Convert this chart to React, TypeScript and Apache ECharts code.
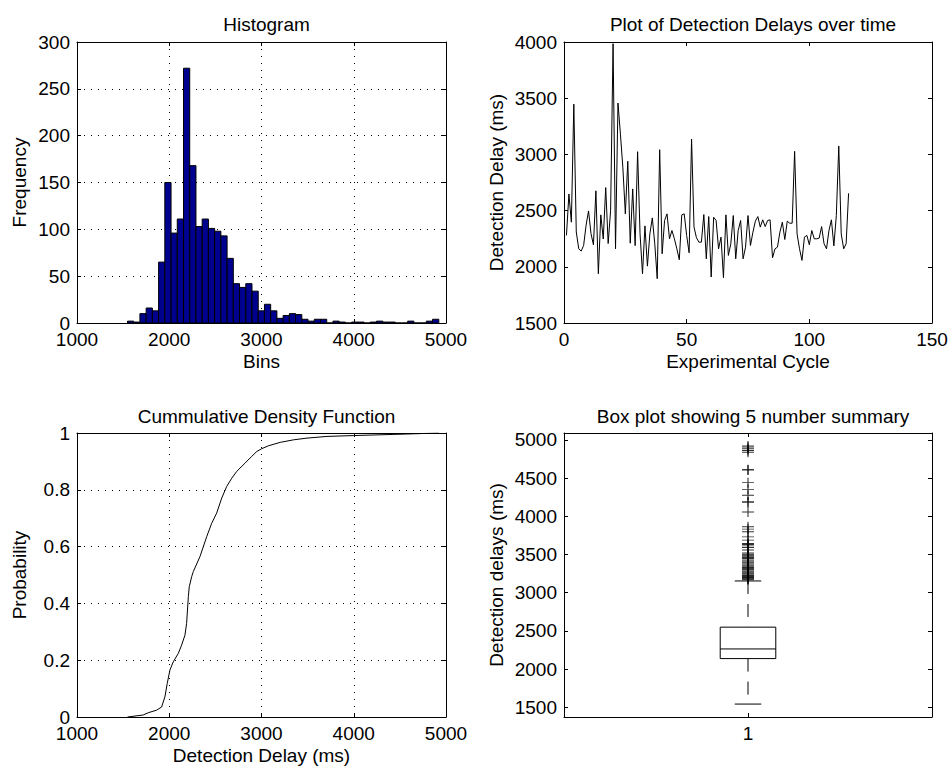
import React, { useEffect, useRef } from 'react';
import * as echarts from 'echarts';

// ---------- data ----------
const histBinStart = 1547;
const histBinWidth = 67.5;
const histCounts = [2, 1, 10, 16, 13, 65, 150, 96, 111, 272, 168, 103, 111, 101, 98, 93, 69, 42, 38, 42, 34, 13, 20, 13, 5, 8, 10, 9, 4, 2, 4, 4, 0, 2, 1, 0, 1, 1, 0, 1, 2, 1, 1, 0, 0, 2, 0, 0, 2, 4];

const cycleDelays = [
  2279, 2648, 2397, 3447, 2310, 2160, 2140, 2190, 2370, 2497,
  2296, 2196, 2676, 1938, 2462, 2247, 2705, 2207, 2503, 3985,
  2160, 3457, 3180, 2880, 2471, 2939, 2210, 2693, 2188, 3024,
  2293, 1938, 2364, 2006, 2293, 2435, 2205, 1894, 3042, 2116,
  2412, 2471, 2249, 2323, 2249, 2160, 2063, 2462, 2471, 2278,
  2125, 3136, 2353, 2258, 2219, 2219, 2465, 2071, 2447, 1909,
  2441, 2412, 2160, 2264, 1903, 2462, 2101, 2205, 2456, 2071,
  2323, 2412, 2071, 2175, 2456, 2190, 2308, 2406, 2447, 2353,
  2418, 2358, 2412, 2418, 2080, 2160, 2175, 2308, 2397, 2243,
  2406, 2388, 2388, 3027, 2293, 2160, 2057, 2264, 2279, 2196,
  2323, 2249, 2249, 2255, 2358, 2205, 2160, 2323, 2418, 2186,
  2456, 3074, 2293, 2160, 2205, 2654,
];

const cdfDelay = [1547, 1717, 1772, 1862, 1917, 1953, 1978, 2007, 2043, 2098, 2134, 2170, 2188, 2207, 2217, 2243, 2261, 2333, 2406, 2460, 2514, 2569, 2623, 2678, 2732, 2822, 2895, 2949, 3004, 3076, 3203, 3348, 3493, 3710, 4000, 4435, 4921];
const cdfProb = [0, 0.007, 0.015, 0.024, 0.035, 0.071, 0.118, 0.165, 0.194, 0.224, 0.253, 0.288, 0.329, 0.424, 0.459, 0.494, 0.512, 0.565, 0.635, 0.682, 0.718, 0.771, 0.812, 0.841, 0.865, 0.894, 0.918, 0.935, 0.945, 0.955, 0.967, 0.976, 0.982, 0.988, 0.991, 0.995, 1];

// [position, lower whisker, Q1, median, Q3, upper whisker]
const boxSummary = [1, 1544, 2139, 2265, 2550, 3154];
const boxOutliers = [
  3170, 3180, 3190, 3200, 3210, 3215, 3225, 3240, 3250, 3260, 3272, 3285, 3300, 3310,
  3320, 3330, 3345, 3360, 3375, 3390, 3400, 3415, 3430, 3447, 3460, 3477, 3490, 3504,
  3520, 3560, 3591, 3613, 3630, 3644, 3688, 3731, 3797, 3832, 3862, 4055, 4182, 4191,
  4274, 4352, 4440, 4606, 4610, 4838, 4860, 4882, 4904, 4920,
];
const boxTicks = [1500, 2000, 2500, 3000, 3500, 4000, 4500, 5000];

// ---------- styling helpers ----------
const FONT = '"Liberation Sans", Arial, Helvetica, sans-serif';
const FS = 19;
const plain = (v: number) => String(v);

type AxCfg = {
  min: number; max: number; interval?: number; name?: string; nameGap?: number;
  grid?: boolean; formatter?: any; customValues?: number[];
};

function axisPair(kind: 'x' | 'y', gridIndex: number, cfg: AxCfg) {
  const base: any = {
    type: 'value', gridIndex, min: cfg.min, max: cfg.max,
    axisLine: { show: true, onZero: false, lineStyle: { color: '#000', width: 1 } },
    axisTick: { show: true, inside: true, length: 4, lineStyle: { color: '#000', width: 1 } },
    splitLine: { show: false },
  };
  if (cfg.interval !== undefined) base.interval = cfg.interval;
  if (cfg.customValues) base.axisTick.customValues = cfg.customValues;
  const label: any = {
    show: true, color: '#000', fontSize: FS, fontFamily: FONT, lineHeight: 15,
    margin: kind === 'x' ? 9 : 7, showMinLabel: true, showMaxLabel: true,
    formatter: cfg.formatter || plain,
  };
  if (cfg.customValues) label.customValues = cfg.customValues;
  const main = {
    ...base,
    position: kind === 'x' ? 'bottom' : 'left',
    axisLabel: label,
    splitLine: { show: !!cfg.grid, lineStyle: { color: '#000', width: 1, type: [1, 6] } },
    name: cfg.name || '',
    nameLocation: 'middle',
    nameGap: cfg.nameGap || 0,
    nameTextStyle: { color: '#000', fontSize: FS, fontFamily: FONT },
  };
  const mirror = {
    ...base,
    axisTick: { ...base.axisTick },
    position: kind === 'x' ? 'top' : 'right',
    axisLabel: { show: false },
  };
  return [main, mirror];
}

const grids = [
  { left: 77, top: 42, width: 369, height: 281 },
  { left: 564, top: 42, width: 368, height: 281 },
  { left: 77, top: 433, width: 369, height: 284 },
  { left: 564, top: 433, width: 368, height: 284 },
];

const xAxes = [
  ...axisPair('x', 0, { min: 1000, max: 5000, interval: 1000, name: 'Bins', nameGap: 29, grid: true }),
  ...axisPair('x', 1, { min: 0, max: 150, interval: 50, name: 'Experimental Cycle', nameGap: 29 }),
  ...axisPair('x', 2, { min: 1000, max: 5000, interval: 1000, name: 'Detection Delay (ms)', nameGap: 29, grid: true }),
  ...axisPair('x', 3, { min: 0.5, max: 1.5, interval: 0.5, formatter: (v: number) => (v === 1 ? '1' : '') }),
];
const yAxes = [
  ...axisPair('y', 0, { min: 0, max: 300, interval: 50, name: 'Frequency', nameGap: 48, grid: true }),
  ...axisPair('y', 1, { min: 1500, max: 4000, interval: 500, name: 'Detection Delay (ms)', nameGap: 58 }),
  ...axisPair('y', 2, { min: 0, max: 1, interval: 0.2, name: 'Probability', nameGap: 48, grid: true }),
  ...axisPair('y', 3, { min: 1375, max: 5089, name: 'Detection delays (ms)', nameGap: 58, customValues: boxTicks }),
];

const titleStyle = { color: '#000', fontSize: FS, fontFamily: FONT, fontWeight: 'normal' as const };
const titles = [
  { text: 'Histogram', left: 261.5, top: 10, textAlign: 'center', textStyle: titleStyle },
  { text: 'Plot of Detection Delays over time', left: 748, top: 10, textAlign: 'center', textStyle: titleStyle },
  { text: 'Cummulative Density Function', left: 261.5, top: 402, textAlign: 'center', textStyle: titleStyle },
  { text: 'Box plot showing 5 number summary', left: 748, top: 402, textAlign: 'center', textStyle: titleStyle },
];

const histData = histCounts.map((c, i) => [histBinStart + i * histBinWidth, histBinStart + (i + 1) * histBinWidth, c]);
const lineData = cycleDelays.map((v, i) => [i + 1, v]);
const cdfData = cdfDelay.map((d, i) => [d, cdfProb[i]]);

const BOX_HALF = 0.0755;
const CAP_HALF = 0.036;

const option: any = {
  animation: false,
  backgroundColor: '#fff',
  title: titles,
  grid: grids,
  xAxis: xAxes,
  yAxis: yAxes,
  series: [
    {
      type: 'custom', xAxisIndex: 0, yAxisIndex: 0,
      encode: { x: [0, 1], y: 2 },
      data: histData,
      renderItem: (params: any, api: any) => {
        const p0 = api.coord([api.value(0), api.value(2)]);
        const p1 = api.coord([api.value(1), 0]);
        return {
          type: 'rect',
          shape: { x: p0[0], y: p0[1], width: p1[0] - p0[0], height: p1[1] - p0[1] },
          style: { fill: '#00008f', stroke: '#000', lineWidth: 1 },
        };
      },
    },
    {
      type: 'line', xAxisIndex: 2, yAxisIndex: 2,
      data: lineData, showSymbol: false, symbol: 'none',
      lineStyle: { color: '#000', width: 1 },
    },
    {
      type: 'line', xAxisIndex: 4, yAxisIndex: 4,
      data: cdfData, showSymbol: false, symbol: 'none', smooth: false,
      lineStyle: { color: '#000', width: 1 },
    },
    {
      type: 'custom', xAxisIndex: 6, yAxisIndex: 6,
      encode: { x: 0, y: [1, 2, 3, 4, 5] },
      data: [boxSummary],
      renderItem: (params: any, api: any) => {
        const x = api.value(0);
        const lo = api.value(1), q1 = api.value(2), med = api.value(3), q3 = api.value(4), hi = api.value(5);
        const c = (a: number, b: number) => api.coord([a, b]);
        const tl = c(x - BOX_HALF, q3), br = c(x + BOX_HALF, q1);
        const ml = c(x - BOX_HALF, med), mr = c(x + BOX_HALF, med);
        const hiP = c(x, hi), q3P = c(x, q3), q1P = c(x, q1), loP = c(x, lo);
        const capL1 = c(x - CAP_HALF, hi), capR1 = c(x + CAP_HALF, hi);
        const capL2 = c(x - CAP_HALF, lo), capR2 = c(x + CAP_HALF, lo);
        const solid = { stroke: '#000', lineWidth: 1, fill: 'none' };
        const dashed = { stroke: '#000', lineWidth: 1, lineDash: [13, 10] };
        return {
          type: 'group',
          children: [
            { type: 'line', shape: { x1: hiP[0], y1: hiP[1], x2: q3P[0], y2: q3P[1] }, style: dashed },
            { type: 'line', shape: { x1: q1P[0], y1: q1P[1], x2: loP[0], y2: loP[1] }, style: dashed },
            { type: 'rect', shape: { x: tl[0], y: tl[1], width: br[0] - tl[0], height: br[1] - tl[1] }, style: solid },
            { type: 'line', shape: { x1: ml[0], y1: ml[1], x2: mr[0], y2: mr[1] }, style: solid },
            { type: 'line', shape: { x1: capL1[0], y1: capL1[1], x2: capR1[0], y2: capR1[1] }, style: solid },
            { type: 'line', shape: { x1: capL2[0], y1: capL2[1], x2: capR2[0], y2: capR2[1] }, style: solid },
          ],
        };
      },
    },
    {
      type: 'scatter', xAxisIndex: 6, yAxisIndex: 6,
      data: boxOutliers.map((v) => [1, v]),
      symbol: 'path://M0 5 L10 5 M5 0 L5 10',
      symbolSize: [12, 10],
      itemStyle: { color: 'rgba(0,0,0,0)', borderColor: '#000', borderWidth: 1 },
    },
  ],
};

export default function App() {
  const ref = useRef<HTMLDivElement>(null);
  useEffect(() => {
    const chart = echarts.init(ref.current as HTMLDivElement, null, { renderer: 'svg' });
    chart.setOption(option);
    return () => chart.dispose();
  }, []);
  return (
    <div
      ref={ref}
      style={{ position: 'fixed', left: 0, top: 0, width: 952, height: 769, background: '#fff' }}
    />
  );
}
